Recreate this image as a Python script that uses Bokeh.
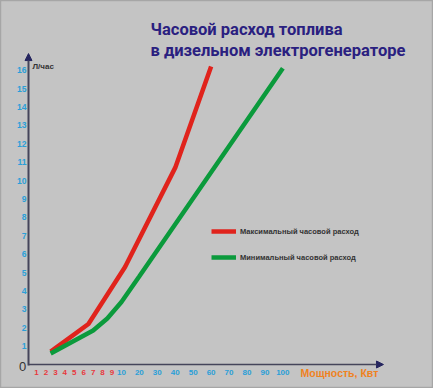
from bokeh.plotting import figure
from bokeh.models import (Range1d, ColumnDataSource, LabelSet, Label,
                          Arrow, NormalHead, Legend, LegendItem)
from bokeh.core.properties import value
from bokeh.embed import file_html
from bokeh.resources import INLINE

# ---- data ----
title_lines = ["Часовой расход топлива", "в дизельном электрогенераторе"]
x_title = "Мощность, Квт"
y_title = "Л/час"
x_tick_values = [1, 2, 3, 4, 5, 6, 7, 8, 9, 10, 20, 30, 40, 50, 60, 70, 80, 90, 100]
y_tick_values = list(range(1, 17))
max_label = "Максимальный часовой расход"
max_power = [2.5, 6.5, 8, 12, 40, 60]
max_fuel = [0.7, 2.2, 3.4, 5.3, 10.7, 16.2]
min_label = "Минимальный часовой расход"
min_power = [2.5, 7, 8.5, 10, 20, 100]
min_fuel = [0.6, 1.85, 2.5, 3.4, 4.8, 16.1]


# the original axis is split: 1..10 evenly, then 10..100 compressed
def pos(p):
    return p if p <= 10 else 10 + (p - 10) * 0.19


BG = "#c4c4c4"
RED = "#e0231c"
GREEN = "#0b9a3c"
BLUE = "#2a9fd8"
RED_LBL = "#e8383d"
DARK = "#333333"
NAVY = "#2a2080"
FONT = "Liberation Sans"

p = figure(width=433, height=388, output_backend="svg", toolbar_location=None,
           x_range=Range1d(-2.8136, 43.06), y_range=Range1d(-1.304, 19.783),
           min_border_left=0, min_border_right=0, min_border_top=0, min_border_bottom=0)
p.background_fill_color = BG
p.border_fill_color = BG
p.outline_line_color = "#a6a6a6"
p.outline_line_width = 1.5
p.grid.visible = False
p.xaxis.visible = False
p.yaxis.visible = False

# axes with arrows
yaxis_x = 0.153
p.add_layout(Arrow(end=NormalHead(size=7, fill_color="#262660", line_color="#262660"),
                   x_start=yaxis_x, y_start=-0.05, x_end=yaxis_x, y_end=16.9,
                   line_width=2, line_color="#45455a"))
p.add_layout(Arrow(end=NormalHead(size=7, fill_color="#262660", line_color="#262660"),
                   x_start=yaxis_x, y_start=0, x_end=37.76, y_end=0,
                   line_width=1.6, line_color="#45455a"))

# curves
r_max = p.line([pos(v) for v in max_power], max_fuel, line_color=RED, line_width=4.5)
r_min = p.line([pos(v) for v in min_power], min_fuel, line_color=GREEN, line_width=4.5)

# x tick labels (two colours)
xsrc = ColumnDataSource(dict(
    x=[pos(v) for v in x_tick_values],
    y=[-0.41] * len(x_tick_values),
    text=[str(v) for v in x_tick_values],
    color=[RED_LBL if v < 10 else BLUE for v in x_tick_values],
))
p.add_layout(LabelSet(x="x", y="y", text="text", source=xsrc, text_color="color",
                      text_align="center", text_baseline="middle",
                      text_font_size=value("8px"), text_font_style="bold",
                      text_font=value(FONT)))

# y tick labels
ysrc = ColumnDataSource(dict(
    x=[-0.06] * len(y_tick_values),
    y=y_tick_values,
    text=[str(v) for v in y_tick_values],
))
p.add_layout(LabelSet(x="x", y="y", text="text", source=ysrc, text_color=BLUE,
                      text_align="right", text_baseline="middle",
                      text_font_size=value("8.5px"), text_font_style="bold",
                      text_font=value(FONT)))

p.add_layout(Label(x=-0.483, y=-0.11, text="0", text_align="center", text_baseline="middle",
                   text_font_size="13px", text_color=DARK, text_font=FONT))
p.add_layout(Label(x=0.576, y=16.2, text=y_title, text_align="left", text_baseline="middle",
                   text_font_size="8px", text_font_style="bold", text_color=DARK,
                   text_font=FONT))
p.add_layout(Label(x=28.97, y=-0.435, text=x_title, text_align="left", text_baseline="middle",
                   text_font_size="10.5px", text_font_style="bold", text_color="#f0821e",
                   text_font=FONT))

for txt, yb in zip(title_lines, [18.21, 17.07]):
    p.add_layout(Label(x=13.08, y=yb, text=txt, text_align="left", text_baseline="alphabetic",
                       text_font_size="16.5px", text_font_style="bold", text_color=NAVY,
                       text_font="Roboto"))

legend = Legend(items=[LegendItem(label=max_label, renderers=[r_max]),
                       LegendItem(label=min_label, renderers=[r_min])],
                location=(211, 126), padding=0, margin=0, spacing=16,
                glyph_width=25, glyph_height=10, label_height=10, label_standoff=4,
                label_text_font_size="7.5px", label_text_font_style="bold",
                label_text_color=DARK, label_text_font=FONT,
                background_fill_alpha=0, border_line_alpha=0)
p.add_layout(legend)

open("out.html", "w").write(file_html(p, INLINE))
